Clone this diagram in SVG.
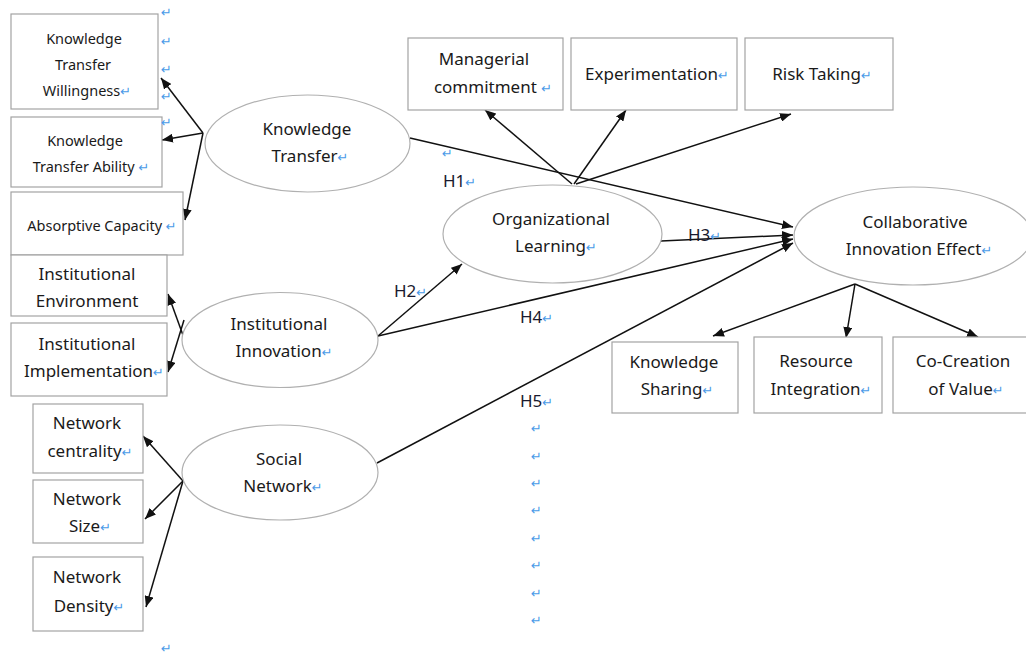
<svg xmlns="http://www.w3.org/2000/svg" width="1026" height="654" viewBox="0 0 1026 654">
<style>
.bg{fill:#fff}
.box{fill:#fff;stroke:#a3a3a3;stroke-width:1.2}
.ell{fill:#fff;stroke:#b0b0b0;stroke-width:1.2}
.t{font-family:"Noto Sans","Liberation Sans",sans-serif;font-size:17px;fill:#1a1a1a;text-anchor:middle}
.s{font-size:14.5px}
.h{font-family:"Noto Sans","Liberation Sans",sans-serif;font-size:17px;fill:#1a1a2e}
.pm{font-family:"DejaVu Sans",sans-serif;font-size:13px;fill:#4a9be8}
.c{fill:none;stroke:#111;stroke-width:1.5;marker-end:url(#ah)}
</style>
<defs>
<marker id="ah" markerUnits="userSpaceOnUse" markerWidth="12" markerHeight="9" refX="11" refY="4.5" orient="auto">
<path d="M0,0 L11,4.5 L0,9 z" fill="#111"/>
</marker>
</defs>
<rect class="bg" x="0" y="0" width="1026" height="654"/>

<g id="connectors">
<path class="c" d="M203,133 L161,78"/>
<path class="c" d="M203,133 L162,140"/>
<path class="c" d="M203,133 L185,220"/>
<path class="c" d="M184,338 L168,294"/>
<path class="c" d="M184,320 L168,372"/>
<path class="c" d="M183,481 L143,436"/>
<path class="c" d="M183,481 L145,519"/>
<path class="c" d="M183,481 L146,607"/>
<path class="c" d="M410,138 L793,227"/>
<path class="c" d="M661,241 L793,235"/>
<path class="c" d="M378,336 L793,239"/>
<path class="c" d="M377,463 L793,243"/>
<path class="c" d="M378,336 L462,264"/>
<path class="c" d="M572,184 L485,110"/>
<path class="c" d="M574,184 L626,110"/>
<path class="c" d="M576,184 L791,114"/>
<path class="c" d="M855,284 L713,336"/>
<path class="c" d="M855,284 L846,338"/>
<path class="c" d="M855,284 L978,337"/>
</g>

<g id="ktw"><rect class="box" x="11" y="14" width="147" height="95"/>
<text class="t s" x="84" y="44">Knowledge</text>
<text class="t s" x="83" y="70">Transfer</text>
<text class="t s" x="87" y="96">Willingness<tspan class="pm">↵</tspan></text></g>

<g id="kta"><rect class="box" x="11" y="117" width="151" height="70"/>
<text class="t s" x="85" y="146">Knowledge</text>
<text class="t s" x="91" y="172">Transfer Ability <tspan class="pm">↵</tspan></text></g>

<g id="ac"><rect class="box" x="11" y="192" width="172" height="63"/>
<text class="t s" x="102" y="231">Absorptive Capacity <tspan class="pm">↵</tspan></text></g>

<g id="ie"><rect class="box" x="11" y="255" width="156" height="61"/>
<text class="t" x="87" y="280">Institutional</text>
<text class="t" x="87" y="307">Environment</text></g>

<g id="iimp"><rect class="box" x="11" y="323" width="156" height="73"/>
<text class="t" x="87" y="350">Institutional</text>
<text class="t" x="94" y="377">Implementation<tspan class="pm">↵</tspan></text></g>

<g id="nc"><rect class="box" x="33" y="404" width="110" height="69"/>
<text class="t" x="87" y="429">Network</text>
<text class="t" x="90" y="457">centrality<tspan class="pm">↵</tspan></text></g>

<g id="ns"><rect class="box" x="33" y="480" width="110" height="63"/>
<text class="t" x="87" y="505">Network</text>
<text class="t" x="90" y="532">Size<tspan class="pm">↵</tspan></text></g>

<g id="nd"><rect class="box" x="33" y="557" width="110" height="74"/>
<text class="t" x="87" y="583">Network</text>
<text class="t" x="89" y="612">Density<tspan class="pm">↵</tspan></text></g>

<g id="kt"><ellipse class="ell" cx="307.5" cy="143.5" rx="102.5" ry="48.5"/>
<text class="t" x="307" y="135">Knowledge</text>
<text class="t" x="310" y="162">Transfer<tspan class="pm">↵</tspan></text></g>

<g id="inn"><ellipse class="ell" cx="280" cy="340" rx="98" ry="47.5"/>
<text class="t" x="279" y="330">Institutional</text>
<text class="t" x="284" y="357">Innovation<tspan class="pm">↵</tspan></text></g>

<g id="sn"><ellipse class="ell" cx="280" cy="472.5" rx="98" ry="47.5"/>
<text class="t" x="279" y="465">Social</text>
<text class="t" x="283" y="492">Network<tspan class="pm">↵</tspan></text></g>

<g id="ol"><ellipse class="ell" cx="552.5" cy="234" rx="109.5" ry="49"/>
<text class="t" x="551" y="225">Organizational</text>
<text class="t" x="556" y="252">Learning<tspan class="pm">↵</tspan></text></g>

<g id="cie"><ellipse class="ell" cx="913" cy="236" rx="119" ry="49"/>
<text class="t" x="915" y="228">Collaborative</text>
<text class="t" x="919" y="255">Innovation Effect<tspan class="pm">↵</tspan></text></g>

<g id="mc"><rect class="box" x="408" y="38" width="155" height="72"/>
<text class="t" x="484" y="65">Managerial</text>
<text class="t" x="493" y="93">commitment <tspan class="pm">↵</tspan></text></g>

<g id="exp"><rect class="box" x="571" y="38" width="166" height="72"/>
<text class="t" x="657" y="80">Experimentation<tspan class="pm">↵</tspan></text></g>

<g id="rt"><rect class="box" x="745" y="38" width="148" height="72"/>
<text class="t" x="822" y="80">Risk Taking<tspan class="pm">↵</tspan></text></g>

<g id="ks"><rect class="box" x="612" y="342" width="126" height="71"/>
<text class="t" x="674" y="368">Knowledge</text>
<text class="t" x="677" y="395">Sharing<tspan class="pm">↵</tspan></text></g>

<g id="ri"><rect class="box" x="754" y="337" width="128" height="76"/>
<text class="t" x="816" y="367">Resource</text>
<text class="t" x="821" y="395">Integration<tspan class="pm">↵</tspan></text></g>

<g id="coc"><rect class="box" x="893" y="337" width="140" height="76"/>
<text class="t" x="963" y="367">Co-Creation</text>
<text class="t" x="966" y="395">of Value<tspan class="pm">↵</tspan></text></g>

<g id="labels">
<text class="h" x="443" y="187">H1<tspan class="pm">↵</tspan></text>
<text class="h" x="394" y="297">H2<tspan class="pm">↵</tspan></text>
<text class="h" x="688" y="241">H3<tspan class="pm">↵</tspan></text>
<text class="h" x="520" y="323">H4<tspan class="pm">↵</tspan></text>
<text class="h" x="520" y="407">H5<tspan class="pm">↵</tspan></text>
</g>

<g id="marks">
<text class="pm" x="161" y="17">↵</text>
<text class="pm" x="161" y="46">↵</text>
<text class="pm" x="161" y="74">↵</text>
<text class="pm" x="161" y="101">↵</text>
<text class="pm" x="161" y="127">↵</text>
<text class="pm" x="442" y="158">↵</text>
<text class="pm" x="161" y="653">↵</text>
<text class="pm" x="531" y="433">↵</text>
<text class="pm" x="531" y="461">↵</text>
<text class="pm" x="531" y="488">↵</text>
<text class="pm" x="531" y="515">↵</text>
<text class="pm" x="531" y="543">↵</text>
<text class="pm" x="531" y="570">↵</text>
<text class="pm" x="531" y="598">↵</text>
<text class="pm" x="531" y="625">↵</text>
</g>
</svg>
